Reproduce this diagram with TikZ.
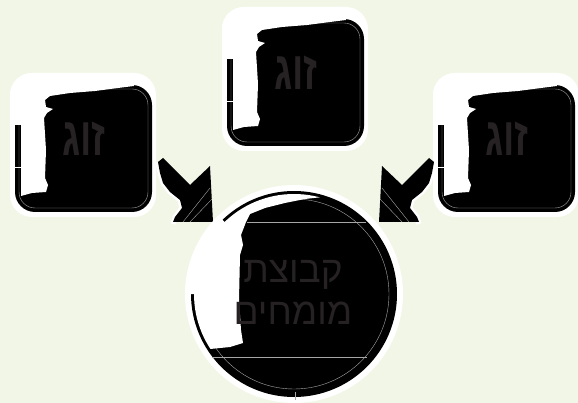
\documentclass[tikz,border=0pt]{standalone}
\usepackage{fontspec}
\setmainfont{Liberation Sans}
\newfontfamily\hebfont[Script=Hebrew]{Liberation Sans}
\TeXXeTstate=1
\definecolor{bg}{HTML}{F2F6E6}
\definecolor{txt}{RGB}{38,34,35}
\tikzset{
  thinline/.style={draw=gray!70, line width=0.4pt},
  boxlabel/.style={text=txt, font=\hebfont\bfseries\fontsize{54}{56}\selectfont, inner sep=0pt},
  circlabel/.style={text=txt, font=\hebfont\fontsize{37}{42}\selectfont, align=center, inner sep=0pt},
}
\newcommand\zugbox[3]{%
\begin{scope}[shift={(#1,#2)}]
  \fill[white, rounded corners=22pt] (0,0) rectangle (146,144);
  \fill[black, rounded corners=20pt] (5,12) rectangle (142,139);
  \draw[thinline, rounded corners=16pt] (9,16) rectangle (138,135);
  \begin{scope}
    \clip[rounded corners=22pt] (0,0) rectangle (146,144);
    \fill[white] (0,0) -- (125,0) -- (124,13) -- (108,15) -- (85,18) -- (60,20) -- (40,23) -- (35,27)
       -- (36,34) -- (43,36) -- (37,40) -- (34,45) -- (36,77) -- (35,105) -- (38,112) -- (36,119) -- (22,120) -- (11,123)
       -- (11,52) -- (0,52) -- cycle;
  \end{scope}
  \draw[white, line width=1pt] (4,95) -- (11,95);
  \node[boxlabel] (#3) at (74,66) {\scalebox{0.7}[1]{\beginR זוג\endR}};
\end{scope}}
\begin{document}
\begin{tikzpicture}[x=1pt,y=-1pt]
\fill[bg] (0,0) rectangle (578,403);
\useasboundingbox (0,0) rectangle (578,403);
% boxes
\zugbox{10}{73}{pairL}
\zugbox{222}{7}{pairT}
\zugbox{433}{73}{pairR}
% left arrow
\draw[white, line width=5pt, line join=round] (158,162) -- (160,173) -- (163,183) -- (170,192) -- (180,200) -- (182,208) -- (175,217) -- (173,224);
\fill[black] (158,162) -- (163,158) -- (190,185) -- (210,166) -- (213,222) -- (173,222) -- (175,217) -- (182,208) -- (180,200) -- (170,192) -- (163,183) -- (160,173) -- cycle;
\draw[thinline] (183,222) -- (210,188) (190,222) -- (212,199);
% right arrow (mirror)
\draw[white, line width=5pt, line join=round] (434,162) -- (432,173) -- (429,183) -- (422,192) -- (412,200) -- (410,208) -- (417,217) -- (419,224);
\fill[black] (434,162) -- (429,158) -- (402,185) -- (382,166) -- (379,222) -- (419,222) -- (417,217) -- (410,208) -- (412,200) -- (422,192) -- (429,183) -- (432,173) -- cycle;
\draw[thinline] (409,222) -- (382,188) (402,222) -- (380,199);
% circle
\fill[white] (294,294) circle (109pt);
\fill[black] (294,294) circle (103pt);
\draw[thinline] (294,294) circle (95pt);
\begin{scope}
  \clip (294,294) circle (100pt);
  \fill[white] (180,185) -- (325,185) -- (323,197) -- (305,199) -- (285,203) -- (265,208) -- (250,214)
    -- (246,222) -- (241,235) -- (243,245) -- (240,255) -- (239,300) -- (241,330) -- (243,343)
    -- (230,347) -- (210,349) -- (180,349) -- cycle;
\end{scope}
\begin{scope}
  \clip (294,294) -- (190,186) -- (140,186) -- (140,294) -- cycle;
  \draw[white, line width=5pt] (294,294) circle (101.5pt);
\end{scope}
\draw[thinline] (247,222) -- (366,222) (212,357) -- (367,357) (295,392) -- (295,400);
\node[circlabel] (experts) at (293,292) {\beginR קבוצת\endR\\\beginR מומחים\endR};
\end{tikzpicture}
\end{document}
